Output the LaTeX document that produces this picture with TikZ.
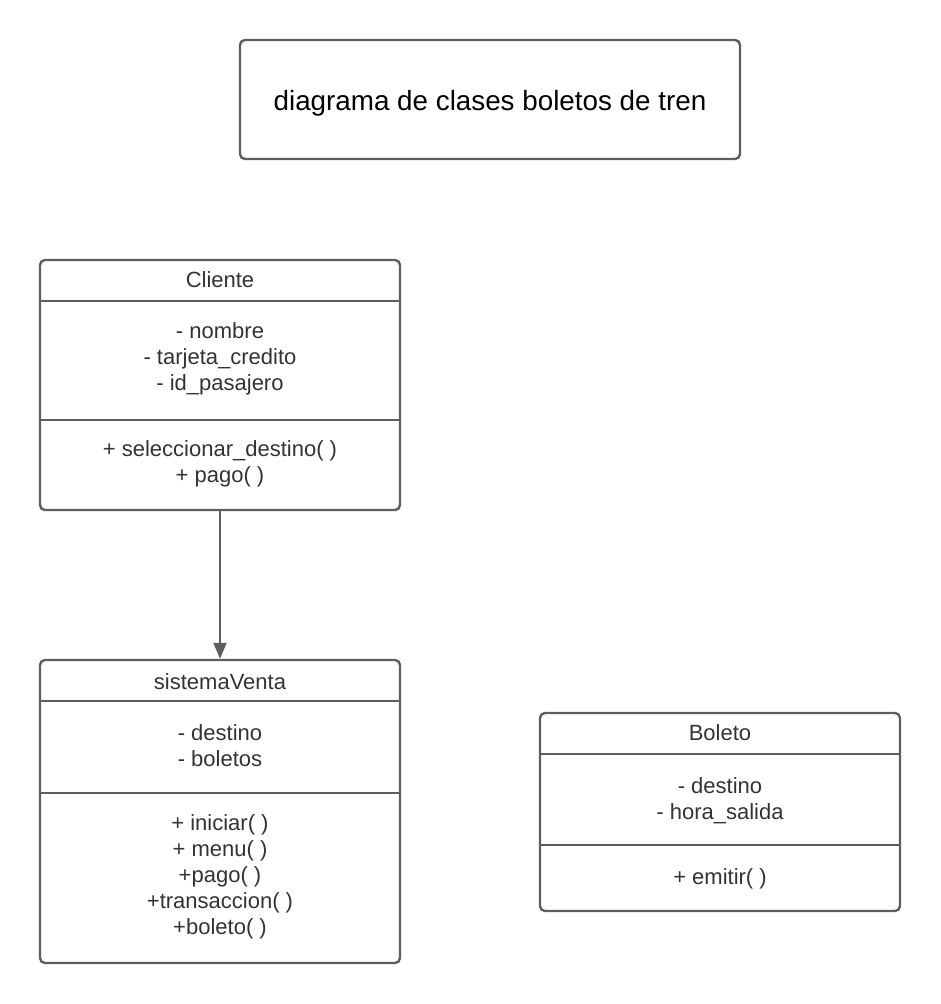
\documentclass[tikz,border=0pt]{standalone}
\usepackage{fontspec}
\setmainfont{Liberation Sans}
\usetikzlibrary{arrows.meta,positioning,calc}
\usepackage{xcolor}
\definecolor{umlgray}{HTML}{5E5E5E}
\definecolor{umltext}{HTML}{333333}
\tikzset{
  classbox/.style={draw=umlgray, line width=2.4pt, rounded corners=5pt, minimum width=360pt, inner sep=0pt},
  titlebox/.style={draw=umlgray, line width=2.4pt, rounded corners=5pt, minimum width=500pt, minimum height=119pt, inner sep=0pt},
  member/.style={text=umltext, align=center, font=\fontsize{22}{26}\selectfont, inner sep=0pt},
  divider/.style={draw=umlgray, line width=2.4pt},
  arrow/.style={-{Triangle[length=16pt, width=13pt]}, line width=2pt, draw=umlgray}
}

\begin{document}
\begin{tikzpicture}[x=1pt, y=-1pt]
  \useasboundingbox (0,0) rectangle (940,1004);
  % title
  \node[titlebox] (title) at (490,99.5) {};
  \node[text=black, font=\fontsize{27.8}{32}\selectfont, inner sep=0pt] (titletext) at (490,103) {diagrama de clases boletos de tren};

  % Cliente
  \node[classbox, minimum height=250pt] (cliente) at (220,385) {};
  \draw[divider] ($(cliente.north west)+(0,42)$) -- ($(cliente.north east)+(0,42)$);
  \draw[divider] ($(cliente.north west)+(0,161)$) -- ($(cliente.north east)+(0,161)$);
  \node[member] (clienteName) at (220,280) {Cliente};
  \node[member] (clienteAttr) at (220,359) {- nombre\\- tarjeta\_credito\\- id\_pasajero};
  \node[member] (clienteOps) at (220,464) {+ seleccionar\_destino( )\\+ pago( )};

  % sistemaVenta
  \node[classbox, minimum height=303pt] (venta) at (220,811.5) {};
  \draw[divider] ($(venta.north west)+(0,42)$) -- ($(venta.north east)+(0,42)$);
  \draw[divider] ($(venta.north west)+(0,134)$) -- ($(venta.north east)+(0,134)$);
  \node[member] (ventaName) at (220,682) {sistemaVenta};
  \node[member] (ventaAttr) at (220,746) {- destino\\- boletos};
  \node[member] (ventaOps) at (220,877) {+ iniciar( )\\+ menu( )\\+pago( )\\+transaccion( )\\+boleto( )};

  % Boleto
  \node[classbox, minimum height=198pt] (boleto) at (720,812) {};
  \draw[divider] ($(boleto.north west)+(0,42)$) -- ($(boleto.north east)+(0,42)$);
  \draw[divider] ($(boleto.north west)+(0,133)$) -- ($(boleto.north east)+(0,133)$);
  \node[member] (boletoName) at (720,733) {Boleto};
  \node[member] (boletoAttr) at (720,801) {- destino\\- hora\_salida};
  \node[member] (boletoOps) at (720,879) {+ emitir( )};

  \draw[arrow] (cliente.south) -- (venta.north);
\end{tikzpicture}
\end{document}
